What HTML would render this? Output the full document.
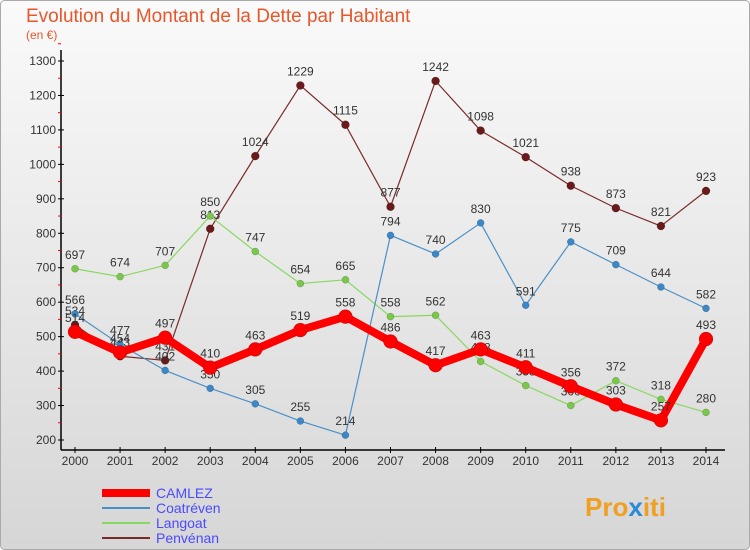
<!DOCTYPE html>
<html><head><meta charset="utf-8"><style>
body{margin:0;width:750px;height:550px;overflow:hidden;font-family:"Liberation Sans",sans-serif}
svg{display:block}
</style></head><body>
<svg width="750" height="550">
<defs><linearGradient id="bg" x1="0" y1="0" x2="0" y2="1"><stop offset="0" stop-color="#fafafa"/><stop offset="1" stop-color="#d6d6d6"/></linearGradient></defs>
<rect x="0.5" y="0.5" width="749" height="549" rx="4" fill="url(#bg)" stroke="#aaa"/>
<text x="26" y="22" font-size="19" fill="#e8562a">Evolution du Montant de la Dette par Habitant</text>
<text x="26" y="39" font-size="12" fill="#e8562a">(en €)</text>
<g id="axes"></g><g id="series"></g>
<g font-size="14">
<line x1="102" y1="493" x2="150" y2="493" stroke="#f00" stroke-width="8"/>
<text x="156" y="498" fill="#4a4aff">CAMLEZ</text>
<line x1="102" y1="508" x2="150" y2="508" stroke="#4a90c8" stroke-width="2"/>
<text x="156" y="513" fill="#4a4aff">Coatréven</text>
<line x1="102" y1="523" x2="150" y2="523" stroke="#88d860" stroke-width="2"/>
<text x="156" y="528" fill="#4a4aff">Langoat</text>
<line x1="102" y1="538" x2="150" y2="538" stroke="#7a2a2a" stroke-width="2"/>
<text x="156" y="543" fill="#4a4aff">Penvénan</text>
</g>
<text x="585" y="516" font-size="26" font-weight="bold" fill="#f0a020">Pro<tspan fill="#2a8ad8">x</tspan>iti</text>
</svg>
<script>
const years=[2000,2001,2002,2003,2004,2005,2006,2007,2008,2009,2010,2011,2012,2013,2014];
const yTicks=[200,300,400,500,600,700,800,900,1000,1100,1200,1300];
const camlez=[514,454,497,410,463,519,558,486,417,463,411,356,303,257,493];
const coatreven=[566,477,402,350,305,255,214,794,740,830,591,775,709,644,582];
const langoat=[697,674,707,850,747,654,665,558,562,428,358,300,372,318,280];
const penvenan=[534,443,431,813,1024,1229,1115,877,1242,1098,1021,938,873,821,923];
const NS="http://www.w3.org/2000/svg";
const X=i=>75+i*(706-75)/14;
const Y=v=>440-(v-200)*(440-61)/1100;
function mk(t,a,p){const e=document.createElementNS(NS,t);for(const k in a)e.setAttribute(k,a[k]);p.appendChild(e);return e;}
const ax=document.getElementById('axes');
const ya=mk('line',{x1:61,y1:50,x2:61,y2:450,stroke:'#000','stroke-width':1.5},ax);


const xa=mk('line',{x1:61,y1:450,x2:725,y2:450,stroke:'#000','stroke-width':1.5},ax);


yTicks.forEach(v=>{
  mk('line',{x1:58,y1:Y(v),x2:64,y2:Y(v),stroke:'#000'},ax);
  mk('line',{x1:58,y1:Y(v+50),x2:61,y2:Y(v+50),stroke:'#f00'},ax);
  const t=mk('text',{x:56,y:Y(v)+4,'text-anchor':'end','font-size':12,fill:'#333'},ax);
  t.textContent=v;
  
  
});
years.forEach((y,i)=>{
  mk('line',{x1:X(i),y1:447,x2:X(i),y2:453,stroke:'#000'},ax);
  const t=mk('text',{x:X(i),y:465,'text-anchor':'middle','font-size':12,fill:'#333'},ax);
  t.textContent=y;
  
  
});
const sg=document.getElementById('series');
function draw(d,name,color,w,r,dot){
  const g=mk('g',{},sg);
  
  
  const l=mk('polyline',{points:d.map((v,i)=>X(i)+','+Y(v)).join(' '),fill:'none',stroke:color,'stroke-width':w,'stroke-linejoin':'round'},g);
  
  
  d.forEach((v,i)=>{
    const c=mk('circle',{cx:X(i),cy:Y(v),r:r,fill:dot,stroke:'rgba(0,0,0,0.3)','stroke-width':0.5},g);
    
    
    const t=mk('text',{x:X(i),y:Y(v)-10,'text-anchor':'middle','font-size':12,fill:'#333'},g);
    t.textContent=v;
    
    
  });
}
draw(penvenan,'penvenan','#7a2a2a',1.2,4,'#6a1a1a');
draw(langoat,'langoat','#88d860',1.2,3.5,'#7ac84a');
draw(coatreven,'coatreven','#4a90c8',1.2,3.5,'#3a88c8');
draw(camlez,'camlez','#f00',8,7,'#f00');
</script>
</body></html>
